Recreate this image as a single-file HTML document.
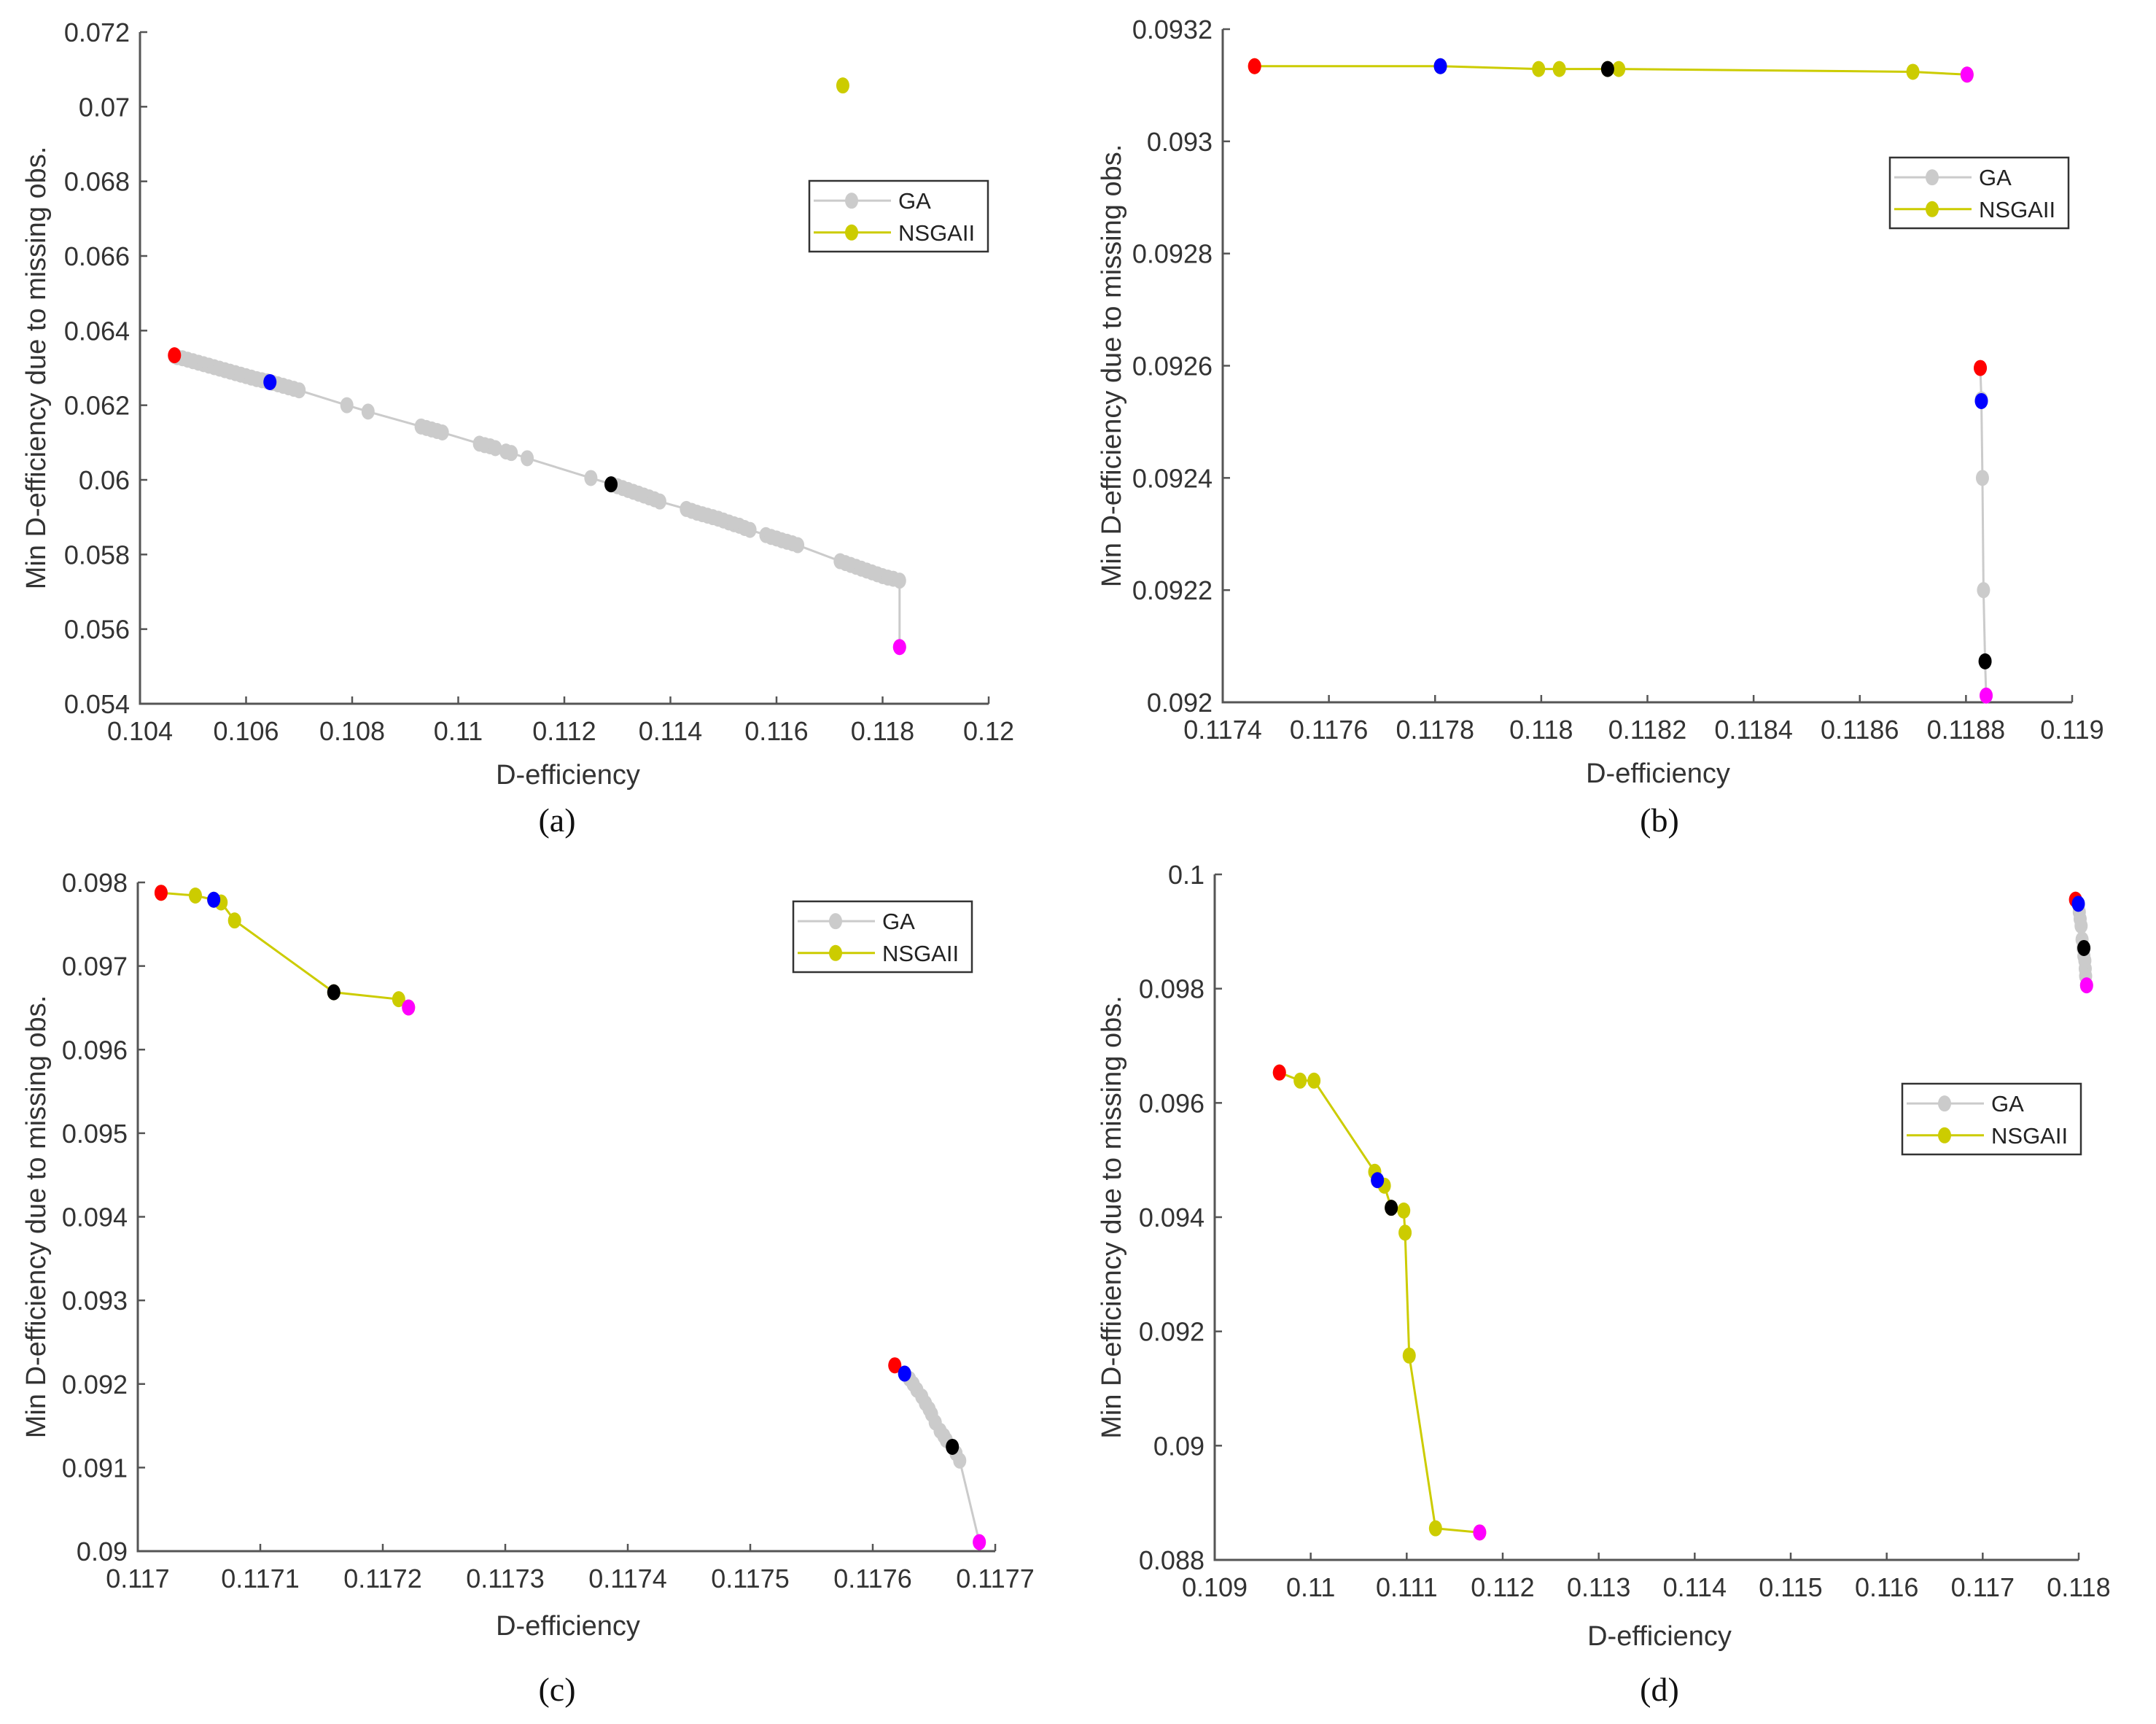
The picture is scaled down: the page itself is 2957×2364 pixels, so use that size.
<!DOCTYPE html>
<html><head><meta charset="utf-8">
<style>
html,body{margin:0;padding:0;background:#fff;}
svg{display:block;font-family:"Liberation Sans",Arial,sans-serif;}
</style></head>
<body>
<svg id="fig" width="2957" height="2364" viewBox="0 0 2957 2364" xmlns="http://www.w3.org/2000/svg"></svg>
<script>
// ---------- Panel (a) data ----------
const aXTicks = [0.104,0.106,0.108,0.11,0.112,0.114,0.116,0.118,0.12];
const aXTickLabels = ["0.104","0.106","0.108","0.11","0.112","0.114","0.116","0.118","0.12"];
const aYTicks = [0.054,0.056,0.058,0.06,0.062,0.064,0.066,0.068,0.07,0.072];
const aYTickLabels = ["0.054","0.056","0.058","0.06","0.062","0.064","0.066","0.068","0.07","0.072"];
const aGAx = [0.10465,0.1047,0.1048,0.1049,0.1050,0.1051,0.1052,0.1053,0.1054,0.1055,0.1056,0.1057,0.1058,0.1059,0.1060,0.1061,0.1062,0.1063,0.1064,0.1065,0.1066,0.1067,0.1068,0.1069,0.1070,0.1079,0.1083,0.1093,0.1094,0.1095,0.1096,0.1097,0.1104,0.1105,0.1106,0.1107,0.1109,0.1110,0.1113,0.1125,0.1129,0.1130,0.1131,0.1132,0.1133,0.1134,0.1135,0.1136,0.1137,0.1138,0.1143,0.1144,0.1145,0.1146,0.1147,0.1148,0.1149,0.1150,0.1151,0.1152,0.1153,0.1154,0.1155,0.1158,0.1159,0.1160,0.1161,0.1162,0.1163,0.1164,0.1172,0.1173,0.1174,0.1175,0.1176,0.1177,0.1178,0.1179,0.1180,0.1181,0.1182,0.11832,0.11832];
const aGAy = [0.06332,0.06329,0.06326,0.06322,0.06318,0.06314,0.0631,0.06306,0.06302,0.06298,0.06294,0.0629,0.06286,0.06282,0.06278,0.06274,0.0627,0.06267,0.06264,0.0626,0.06256,0.06252,0.06248,0.06244,0.0624,0.0620,0.06183,0.06143,0.06139,0.06135,0.06131,0.06127,0.06097,0.06093,0.0609,0.06085,0.06076,0.06072,0.06058,0.06005,0.05988,0.05983,0.05978,0.05973,0.05968,0.05963,0.05958,0.05953,0.05948,0.05942,0.05922,0.05917,0.05912,0.05908,0.05904,0.059,0.05896,0.05891,0.05886,0.05881,0.05877,0.05871,0.05866,0.05852,0.05847,0.05843,0.05838,0.05834,0.0583,0.05825,0.05782,0.05777,0.05772,0.05767,0.05762,0.05757,0.05752,0.05747,0.05742,0.05738,0.05735,0.0573,0.05552];
const aNSx = [0.11725];
const aNSy = [0.07057];
const aSpecialX = [0.10465,0.10645,0.11288,0.11832];
const aSpecialY = [0.06334,0.06262,0.05988,0.05552];

// ---------- Panel (b) data ----------
const bXTicks = [0.1174,0.1176,0.1178,0.118,0.1182,0.1184,0.1186,0.1188,0.119];
const bXTickLabels = ["0.1174","0.1176","0.1178","0.118","0.1182","0.1184","0.1186","0.1188","0.119"];
const bYTicks = [0.092,0.0922,0.0924,0.0926,0.0928,0.093,0.0932];
const bYTickLabels = ["0.092","0.0922","0.0924","0.0926","0.0928","0.093","0.0932"];
const bGAx = [0.118827,0.118829,0.118831,0.118833,0.118836,0.118838];
const bGAy = [0.092596,0.09254,0.0924,0.0922,0.092073,0.092012];
const bNSx = [0.11746,0.11781,0.117995,0.118034,0.118125,0.118146,0.1187,0.118802];
const bNSy = [0.093134,0.093134,0.093129,0.093129,0.093129,0.093129,0.093124,0.093119];
const bSpecialX = [0.11746,0.11781,0.118125,0.118802,0.118827,0.118829,0.118836,0.118838];
const bSpecialY = [0.093134,0.093134,0.093129,0.093119,0.092596,0.092537,0.092073,0.092012];
const bSpecialC = ["#ff0000","#0000ff","#000000","#ff00ff","#ff0000","#0000ff","#000000","#ff00ff"];

// ---------- Panel (c) data ----------
const cXTicks = [0.117,0.1171,0.1172,0.1173,0.1174,0.1175,0.1176,0.1177];
const cXTickLabels = ["0.117","0.1171","0.1172","0.1173","0.1174","0.1175","0.1176","0.1177"];
const cYTicks = [0.09,0.091,0.092,0.093,0.094,0.095,0.096,0.097,0.098];
const cYTickLabels = ["0.09","0.091","0.092","0.093","0.094","0.095","0.096","0.097","0.098"];
const cGAx = [0.117618,0.117626,0.11763,0.117633,0.117636,0.11764,0.117643,0.117646,0.117648,0.117651,0.117655,0.117658,0.11766,0.117665,0.117668,0.117671,0.117687];
const cGAy = [0.092223,0.092124,0.09206,0.092,0.09193,0.09185,0.09177,0.0917,0.09164,0.09154,0.09144,0.09138,0.09133,0.091248,0.09117,0.091083,0.090108];
const cNSx = [0.117019,0.117047,0.117062,0.117068,0.117079,0.11716,0.117213,0.117221];
const cNSy = [0.097876,0.097843,0.097793,0.09776,0.097545,0.096686,0.096603,0.096504];
const cSpecialX = [0.117019,0.117062,0.11716,0.117221,0.117618,0.117626,0.117665,0.117687];
const cSpecialY = [0.097876,0.097793,0.096686,0.096504,0.092223,0.092124,0.091248,0.090108];
const cSpecialC = ["#ff0000","#0000ff","#000000","#ff00ff","#ff0000","#0000ff","#000000","#ff00ff"];

// ---------- Panel (d) data ----------
const dXTicks = [0.109,0.11,0.111,0.112,0.113,0.114,0.115,0.116,0.117,0.118];
const dXTickLabels = ["0.109","0.11","0.111","0.112","0.113","0.114","0.115","0.116","0.117","0.118"];
const dYTicks = [0.088,0.09,0.092,0.094,0.096,0.098,0.1];
const dYTickLabels = ["0.088","0.09","0.092","0.094","0.096","0.098","0.1"];
const dGAx = [0.117967,0.117996,0.118006,0.118015,0.118025,0.118035,0.118045,0.118054,0.118064,0.118068,0.118072,0.118082];
const dGAy = [0.099558,0.099485,0.09934,0.09922,0.0991,0.09886,0.098711,0.09857,0.09849,0.09835,0.09822,0.098058];
const dNSx = [0.109674,0.10989,0.110034,0.110667,0.110695,0.110767,0.110839,0.110969,0.110983,0.111026,0.1113,0.11176];
const dNSy = [0.096532,0.09639,0.09639,0.094794,0.094648,0.094551,0.094164,0.094116,0.093729,0.091577,0.088553,0.088481];
const dSpecialX = [0.109674,0.110695,0.110839,0.11176,0.117967,0.117996,0.118054,0.118082];
const dSpecialY = [0.096532,0.094648,0.094164,0.088481,0.099558,0.099485,0.098711,0.098058];
const dSpecialC = ["#ff0000","#0000ff","#000000","#ff00ff","#ff0000","#0000ff","#000000","#ff00ff"];

const NS = "http://www.w3.org/2000/svg";
const svg = document.getElementById('fig');
function mk(tag, attrs, parent){
  const e = document.createElementNS(NS, tag);
  for (const k in attrs) e.setAttribute(k, attrs[k]);
  (parent||svg).appendChild(e);
  return e;
}
const GRAY = "#cbcbcb", YEL = "#cccc00";

function panel(p){
  const g = mk('g', {});
  
  
  const xs = v => p.L + (v - p.xmin) / (p.xmax - p.xmin) * (p.R - p.L);
  const ys = v => p.B - (v - p.ymin) / (p.ymax - p.ymin) * (p.B - p.T);
  const ax = mk('path', {d:`M${p.L},${p.T} L${p.L},${p.B} L${p.R},${p.B}`, fill:'none', stroke:'#555', 'stroke-width':3}, g);
  
  
  p.xt.forEach((v,i)=>{
    const x = xs(v);
    mk('line',{x1:x,y1:p.B,x2:x,y2:p.B-10,stroke:'#555','stroke-width':2.5},g);
    const t = mk('text',{x:x,y:p.B+50,'text-anchor':'middle','font-size':36,fill:'#333'},g);
    t.textContent = p.xl[i];
    
    
  });
  p.yt.forEach((v,i)=>{
    const y = ys(v);
    mk('line',{x1:p.L,y1:y,x2:p.L+10,y2:y,stroke:'#555','stroke-width':2.5},g);
    const t = mk('text',{x:p.L-14,y:y+13,'text-anchor':'end','font-size':36,fill:'#333'},g);
    t.textContent = p.yl[i];
    
    
  });
  const gaPts = p.gx.map((v,i)=>xs(v)+','+ys(p.gy[i])).join(' ');
  const gl = mk('polyline',{points:gaPts,fill:'none',stroke:GRAY,'stroke-width':3},g);
  
  
  p.gx.forEach((v,i)=>{
    const c = mk('ellipse',{cx:xs(v),cy:ys(p.gy[i]),rx:9,ry:11,fill:GRAY},g);
    
    
  });
  if (p.nx.length > 1){
    const nl = mk('polyline',{points:p.nx.map((v,i)=>xs(v)+','+ys(p.ny[i])).join(' '),fill:'none',stroke:YEL,'stroke-width':3},g);
    
    
  }
  p.nx.forEach((v,i)=>{
    const c = mk('ellipse',{cx:xs(v),cy:ys(p.ny[i]),rx:9,ry:11,fill:YEL},g);
    
    
  });
  p.sx.forEach((v,i)=>{
    const c = mk('ellipse',{cx:xs(v),cy:ys(p.sy[i]),rx:9,ry:11,fill:p.sc[i]},g);
    
    
  });
  const xlab = mk('text',{x:p.xlx,y:p.xly,'text-anchor':'middle','font-size':38,fill:'#333'},g);
  xlab.textContent = 'D-efficiency';
  
  
  const cy = (p.T + p.B)/2;
  const ylab = mk('text',{x:p.ylx,y:cy,'text-anchor':'middle','font-size':38,fill:'#333',transform:`rotate(-90 ${p.ylx} ${cy})`},g);
  ylab.textContent = 'Min D-efficiency due to missing obs.';
  
  
  const cap = mk('text',{x:p.capx,y:p.capy,'text-anchor':'middle','font-size':46,fill:'#111','font-family':'"Liberation Serif",serif'},g);
  cap.textContent = '(' + p.id + ')';
  
  
  const lg = mk('g',{},g);
  
  
  mk('rect',{x:p.lgx,y:p.lgy,width:245,height:97,fill:'#fff',stroke:'#333','stroke-width':2.5},lg);
  [[GRAY,'GA',0.28],[YEL,'NSGAII',0.73]].forEach(([col,txt,f])=>{
    const yy = p.lgy + 97*f;
    const e = mk('g',{},lg);
    
    
    mk('line',{x1:p.lgx+6,y1:yy,x2:p.lgx+112,y2:yy,stroke:col,'stroke-width':3},e);
    mk('ellipse',{cx:p.lgx+58,cy:yy,rx:9,ry:11,fill:col},e);
    const t = mk('text',{x:p.lgx+122,y:yy+11,'font-size':31,fill:'#222'},e);
    t.textContent = txt;
  });
}

panel({id:'a',L:192,R:1356,T:44,B:965,xmin:0.104,xmax:0.12,ymin:0.054,ymax:0.072,
  xt:aXTicks,xl:aXTickLabels,yt:aYTicks,yl:aYTickLabels,gx:aGAx,gy:aGAy,nx:aNSx,ny:aNSy,
  sx:aSpecialX,sy:aSpecialY,sc:["#ff0000","#0000ff","#000000","#ff00ff"],
  xlx:779,xly:1075,ylx:62,capx:764,capy:1140,lgx:1110,lgy:248});
panel({id:'b',L:1677,R:2842,T:40,B:963,xmin:0.1174,xmax:0.119,ymin:0.092,ymax:0.0932,
  xt:bXTicks,xl:bXTickLabels,yt:bYTicks,yl:bYTickLabels,gx:bGAx,gy:bGAy,nx:bNSx,ny:bNSy,
  sx:bSpecialX,sy:bSpecialY,sc:bSpecialC,
  xlx:2274,xly:1073,ylx:1537,capx:2276,capy:1140,lgx:2592,lgy:216});
panel({id:'c',L:189,R:1365,T:1210,B:2127,xmin:0.117,xmax:0.1177,ymin:0.09,ymax:0.098,
  xt:cXTicks,xl:cXTickLabels,yt:cYTicks,yl:cYTickLabels,gx:cGAx,gy:cGAy,nx:cNSx,ny:cNSy,
  sx:cSpecialX,sy:cSpecialY,sc:cSpecialC,
  xlx:779,xly:2242,ylx:62,capx:764,capy:2332,lgx:1088,lgy:1236});
panel({id:'d',L:1666,R:2851,T:1199,B:2139,xmin:0.109,xmax:0.118,ymin:0.088,ymax:0.1,
  xt:dXTicks,xl:dXTickLabels,yt:dYTicks,yl:dYTickLabels,gx:dGAx,gy:dGAy,nx:dNSx,ny:dNSy,
  sx:dSpecialX,sy:dSpecialY,sc:dSpecialC,
  xlx:2276,xly:2256,ylx:1537,capx:2276,capy:2332,lgx:2609,lgy:1486});
</script>
</body></html>
